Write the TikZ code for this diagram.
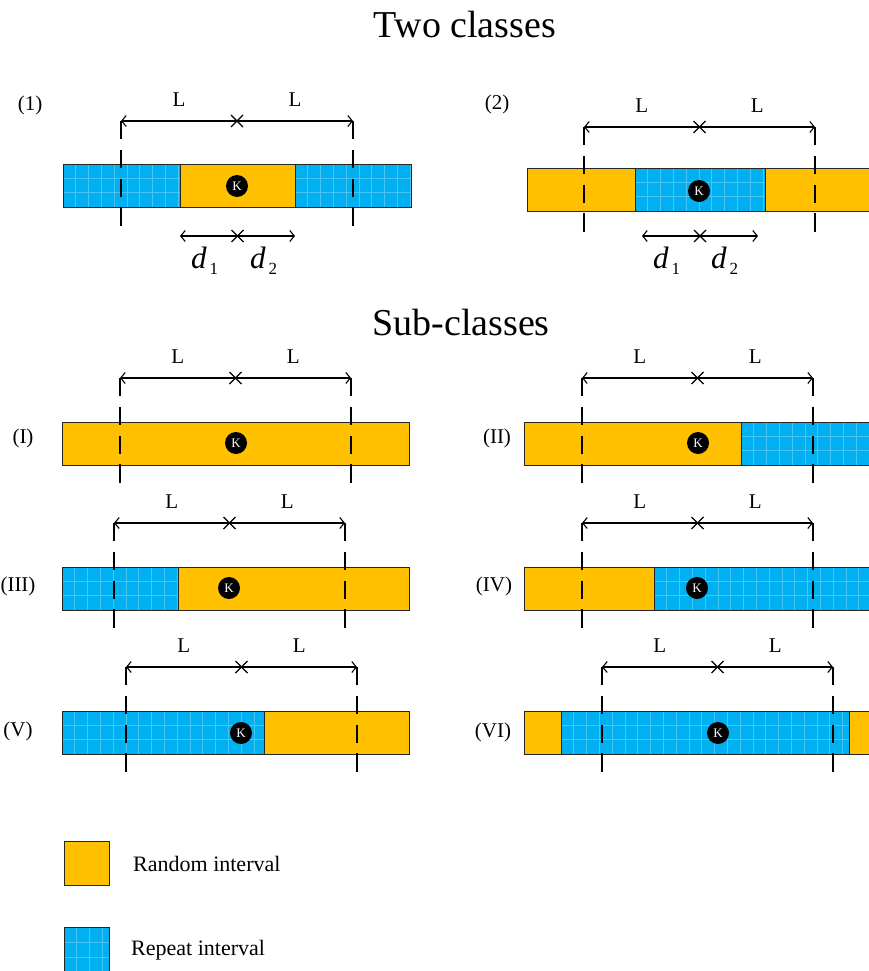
\documentclass[tikz,border=0pt]{standalone}
\usepackage{fontspec}
\setmainfont{Liberation Serif}
\usetikzlibrary{arrows.meta}
\definecolor{rndc}{HTML}{FFC000}
\definecolor{repc}{HTML}{00B0F0}
\definecolor{gridc}{HTML}{45C6F4}
\tikzset{
  gridl/.style={draw=gridc, line width=0.8pt},
  barline/.style={draw=black!85, line width=0.9pt},
  vdash/.style={line width=2.2pt, dash pattern=on 18.4pt off 10.4pt},
  dimarrow/.style={line width=1.1pt, {Straight Barb[length=4.5pt,width=11pt]}-{Straight Barb[length=4.5pt,width=11pt]}},
  xm/.style={line width=1.1pt},
  lbl/.style={font=\fontsize{21}{24}\selectfont, inner sep=0pt},
  leg/.style={font=\fontsize{22}{26}\selectfont, inner sep=0pt},
  kcirc/.style={circle, fill=black, minimum size=22pt, inner sep=0pt, text=white, font=\fontsize{13}{14}\selectfont},
  ttl/.style={font=\fontsize{38}{44}\selectfont, inner sep=0pt},
  dlbl/.style={inner sep=0pt, anchor=base west},
}
\newcommand\rndseg[4]{%
  \fill[rndc] (#1,#3) rectangle (#2,#4);
  \draw[barline] (#1,#3) rectangle (#2,#4);}
\newcommand\repseg[4]{%
  \fill[repc] (#1,#3) rectangle (#2,#4);
  \begin{scope}
    \clip (#1,#3) rectangle (#2,#4);
    \foreach \gi in {1,...,30}{\draw[gridl] ({#1+\gi*12.8},#3) -- ({#1+\gi*12.8},#4);}
    \draw[gridl] (#1,{#3+(#4-#3)/3}) -- (#2,{#3+(#4-#3)/3});
    \draw[gridl] (#1,{#3+2*(#4-#3)/3}) -- (#2,{#3+2*(#4-#3)/3});
  \end{scope}
  \draw[barline] (#1,#3) rectangle (#2,#4);}
\newcommand\dimline[4]{%
  \coordinate (#1L) at (#2,#4);
  \coordinate (#1R) at (#3,#4);
  \coordinate (#1M) at ({(#2+#3)/2},#4);
  \draw[dimarrow] (#1L) -- (#1R);
  \draw[xm] (#1M) ++(-6,-6) -- ++(12,12);
  \draw[xm] (#1M) ++(-6,6) -- ++(12,-12);}
\newcommand\dimset[4]{%
  \coordinate (#1gl) at (#2,{#4+105});
  \coordinate (#1gr) at (#3,{#4+105});
  \draw[vdash] (#2,#4) -- (#1gl);
  \draw[vdash] (#3,#4) -- (#1gr);
  \dimline{#1}{#2}{#3}{#4}
  \node[lbl] (#1a) at ({(3*#2+#3)/4},{#4-21}) {L};
  \node[lbl] (#1b) at ({(#2+3*#3)/4},{#4-21}) {L};}
\newcommand\dlab[1]{{\fontsize{31}{34}\selectfont\itshape d}\hspace{3pt}\raisebox{-6pt}{\fontsize{17}{19}\selectfont #1}}
\begin{document}
\begin{tikzpicture}[x=1pt,y=-1pt]
\useasboundingbox (0,0) rectangle (868,971);
% titles
\node[ttl, anchor=base] (t1) at (465,38) {Two classes};
\node[ttl, anchor=base] (t2) at (461,335) {Sub-classes};

% ---------- (1)
\repseg{63}{180}{164}{207}
\rndseg{180}{295}{164}{207}
\repseg{295}{411}{164}{207}
\dimset{a}{121}{353}{121}
\node[kcirc] (k1) at (237,186) {K};
\dimline{da}{180}{295}{236}
\node[dlbl] (da1) at (191,268) {\dlab{1}};
\node[dlbl] (da2) at (250,268) {\dlab{2}};
\node[lbl] (n1) at (30,105) {(1)};

% ---------- (2)
\rndseg{527}{635}{168}{211}
\repseg{635}{765}{168}{211}
\rndseg{765}{880}{168}{211}
\dimset{b}{584}{815}{127}
\node[kcirc] (k2) at (699,191) {K};
\dimline{db}{642}{758}{236}
\node[dlbl] (db1) at (653,268) {\dlab{1}};
\node[dlbl] (db2) at (711,268) {\dlab{2}};
\node[lbl] (n2) at (497,104) {(2)};

% ---------- (I)
\rndseg{62}{409}{422}{465}
\dimset{c}{120}{351}{378}
\node[kcirc] (k3) at (236,443) {K};
\node[lbl] (n3) at (23,438) {(I)};

% ---------- (II)
\rndseg{524}{741}{422}{465}
\repseg{741}{880}{422}{465}
\dimset{d}{582}{813}{378}
\node[kcirc] (k4) at (698,443) {K};
\node[lbl] (n4) at (497,438) {(II)};

% ---------- (III)
\repseg{62}{178}{567}{610}
\rndseg{178}{409}{567}{610}
\dimset{e}{114}{345}{523}
\node[kcirc] (k5) at (229,588) {K};
\node[lbl] (n5) at (18,586) {(III)};

% ---------- (IV)
\rndseg{524}{654}{567}{610}
\repseg{654}{880}{567}{610}
\dimset{f}{582}{813}{523}
\node[kcirc] (k6) at (697,588) {K};
\node[lbl] (n6) at (494,586) {(IV)};

% ---------- (V)
\repseg{62}{264}{711}{754}
\rndseg{264}{409}{711}{754}
\dimset{g}{126}{357}{667}
\node[kcirc] (k7) at (241,733) {K};
\node[lbl] (n7) at (18,731) {(V)};

% ---------- (VI)
\rndseg{524}{561}{711}{754}
\repseg{561}{849}{711}{754}
\rndseg{849}{880}{711}{754}
\dimset{h}{602}{833}{667}
\node[kcirc] (k8) at (718,733) {K};
\node[lbl] (n8) at (493,732) {(VI)};

% ---------- legend
\rndseg{64}{109}{841}{885}
\repseg{64}{109}{927}{972}
\node[leg, anchor=west] (lg1) at (133,864) {Random interval};
\node[leg, anchor=west] (lg2) at (131,950) {Repeat interval};
\end{tikzpicture}
\end{document}
